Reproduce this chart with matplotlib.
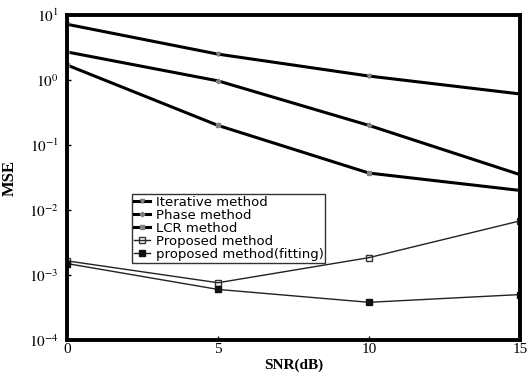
"""MSE vs SNR for the frequency estimation methods"""

import numpy as np
import matplotlib.pyplot as plt

plt.rcParams['font.family'] = 'Liberation Serif'
plt.rcParams['mathtext.fontset'] = 'stix'

snr = [0, 5, 10, 15]

# MSE values
iterative = [7.2, 2.5, 1.15, 0.61]
phase = [2.7, 0.97, 0.2, 0.035]
lcr = [1.7, 0.2, 0.037, 0.02]
proposed = [1.65e-3, 7.6e-4, 1.85e-3, 6.8e-3]
fitting = [1.5e-3, 6.0e-4, 3.8e-4, 5.0e-4]

labels = ["Iterative method", "Phase method", "LCR method",
          "Proposed method", "proposed method(fitting)"]
yticks = [1e-4, 1e-3, 1e-2, 1e-1, 1e0, 1e1]
ytick_labels = ["$10^{-4}$", "$10^{-3}$", "$10^{-2}$", "$10^{-1}$", "$10^{0}$", "$10^{1}$"]

fig = plt.figure(figsize=(5.29, 3.76), dpi=100)
ax = fig.add_axes([67 / 529, 1 - 340 / 376, 453 / 529, 325 / 376])

ax.plot(snr, iterative, color="black", lw=2.2, marker="v", ms=3, mfc="gray", mec="gray", label=labels[0])
ax.plot(snr, phase, color="black", lw=2.2, marker="P", ms=3, mfc="gray", mec="gray", label=labels[1])
ax.plot(snr, lcr, color="black", lw=2.2, marker="s", ms=3, mfc="gray", mec="gray", label=labels[2])
ax.plot(snr, proposed, color="#222222", lw=1.0, marker="s", ms=4, mfc="none", mec="#333333", label=labels[3])
ax.plot(snr, fitting, color="#222222", lw=1.0, marker="s", ms=4, mfc="#111111", mec="#111111", label=labels[4])

ax.set_yscale("log")
ax.set_xlim(0, 15)
ax.set_ylim(1e-4, 1e1)
ax.set_xticks([0, 5, 10, 15])
ax.set_yticks(yticks)
ax.set_yticklabels(ytick_labels)
ax.minorticks_off()
ax.tick_params(direction="in", length=3, width=1, labelsize=11)
ax.tick_params(axis="x", pad=2)
ax.tick_params(axis="y", pad=6)
for s in ax.spines.values():
    s.set_linewidth(2.8)

ax.set_xlabel("SNR(dB)", fontsize=11, fontweight="bold", labelpad=2)
ax.set_ylabel("MSE", fontsize=12, fontweight="bold", labelpad=8)

leg = ax.legend(loc="upper left", bbox_to_anchor=(0.13, 0.47), frameon=True, fancybox=False,
                edgecolor="black", handlelength=1.2, handletextpad=0.4,
                labelspacing=0.0, borderpad=0.15, prop={"family": "DejaVu Sans", "size": 9.5})
leg.get_frame().set_linewidth(1.0)

fig.savefig("out.png", dpi=100)
